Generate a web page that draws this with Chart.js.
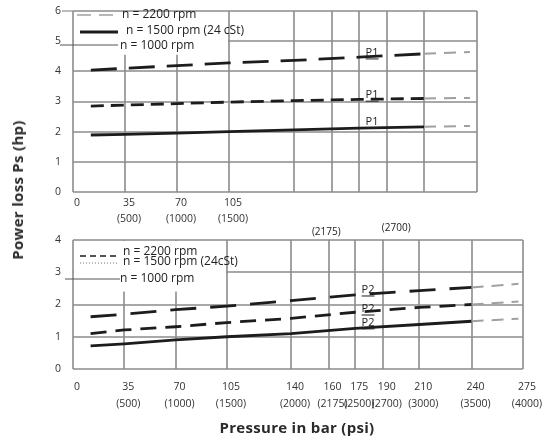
<!DOCTYPE html>
<html>
<head>
<meta charset="utf-8">
<script src="https://cdn.jsdelivr.net/npm/chart.js@4.4.1/dist/chart.umd.min.js"></script>
<style>
  html, body { margin: 0; padding: 0; background: #fff; }
  #wrap { position: relative; width: 548px; height: 439px; overflow: hidden; }
  #box-top { position: absolute; left: 0; top: 0; width: 548px; height: 240px; }
  #box-bottom { position: absolute; left: 0; top: 226px; width: 548px; height: 213px; }
  .axis-title { position: absolute; font: bold 15px "Open Sans", "DejaVu Sans", sans-serif; letter-spacing: 0.3px; color: #2a2a2a; white-space: nowrap; }
  #title-x { left: 297px; top: 427px; transform: translate(-50%, -50%); }
  #title-y { left: 17px; top: 190px; transform: translate(-50%, -50%) rotate(-90deg); }
</style>
</head>
<body>
<div id="wrap">
  <div id="box-top"><canvas id="chart-top" width="548" height="240"></canvas></div>
  <div id="box-bottom"><canvas id="chart-bottom" width="548" height="213"></canvas></div>
  <div class="axis-title" id="title-y">Power loss Ps (hp)</div>
  <div class="axis-title" id="title-x">Pressure in bar (psi)</div>
</div>
<script>
// pressure ticks (bar) and their psi labels
const pressureTicks = [0, 35, 70, 105, 140, 160, 175, 190, 210, 240, 275];
const psiTicks = ['', '(500)', '(1000)', '(1500)', '(2000)', '(2175)', '(2500)', '(2700)', '(3000)', '(3500)', '(4000)'];
const topLabelledUpTo = 105;

// upper diagram (P1)
const topPressure = [12, 35, 70, 105, 140, 175, 210, 236];
const top2200 = [4.04, 4.10, 4.19, 4.28, 4.36, 4.47, 4.58, 4.64];
const top1500 = [2.85, 2.88, 2.93, 2.98, 3.03, 3.07, 3.10, 3.12];
const top1000 = [1.89, 1.91, 1.95, 2.00, 2.06, 2.12, 2.16, 2.19];
const topSolidEnd = 210;

// lower diagram (P2)
const botPressure = [12, 35, 70, 105, 140, 175, 210, 240, 272];
const bot2200 = [1.62, 1.70, 1.84, 1.95, 2.12, 2.30, 2.43, 2.53, 2.64];
const bot1500 = [1.10, 1.21, 1.31, 1.44, 1.57, 1.76, 1.91, 2.00, 2.09];
const bot1000 = [0.72, 0.78, 0.90, 1.00, 1.10, 1.26, 1.38, 1.48, 1.56];
const botSolidEnd = 240;

const legendTop = ['n = 2200 rpm', 'n = 1500 rpm (24 cSt)', 'n = 1000 rpm'];
const legendBot = ['n = 2200 rpm', 'n = 1500 rpm (24cSt)', 'n = 1000 rpm'];
const strayLabels = ['(2175)', '(2700)'];

// the pressure axis of the original is not linear: relative spacing of the ticks
const tickSpacing = [0, 52, 104, 156, 221, 259, 286, 314, 351, 404, 456];

const FONT = '"Open Sans", "DejaVu Sans", sans-serif';
const INK = '#1c1c1c';
const GRID = '#8c8c8c';
const FADED = '#a0a0a0';

function interp(v, xs, ys) {
    let i = 0;
    while (i < xs.length - 2 && v > xs[i + 1]) i++;
    return ys[i] + (v - xs[i]) / (xs[i + 1] - xs[i]) * (ys[i + 1] - ys[i]);
}

class PressureScale extends Chart.LinearScale {
    getPixelForValue(value) {
        if (value === null || value === undefined) return NaN;
        const full = interp(this.max, pressureTicks, tickSpacing);
        return this.getPixelForDecimal(interp(value, pressureTicks, tickSpacing) / full);
    }
    getValueForPixel(pixel) {
        const full = interp(this.max, pressureTicks, tickSpacing);
        return interp(this.getDecimalForPixel(pixel) * full, tickSpacing, pressureTicks);
    }
}
PressureScale.id = 'pressure';
PressureScale.defaults = Chart.LinearScale.defaults;
Chart.register(PressureScale);

const pts = (xs, ys) => xs.map((x, i) => ({ x: x, y: ys[i] }));

function curve(label, xs, ys, dash, solidEnd) {
    return {
        label: label,
        data: pts(xs, ys),
        borderColor: INK,
        borderWidth: 2.8,
        borderDash: dash,
        pointRadius: 0,
        tension: 0,
        segment: {
            borderColor: c => c.p0.parsed.x >= solidEnd ? FADED : undefined,
            borderDash: c => c.p0.parsed.x >= solidEnd ? [12, 8] : dash,
            borderWidth: c => c.p0.parsed.x >= solidEnd ? 2 : undefined
        }
    };
}

function scales(yMax, xMax, labelFn, padX, lineH, xHeight) {
    return {
        x: {
            type: 'pressure', min: 0, max: xMax,
            afterFit: s => { s.height = xHeight; },
            afterBuildTicks: s => { s.ticks = pressureTicks.filter(v => v <= xMax).map(v => ({ value: v })); },
            grid: { display: false, drawTicks: false },
            border: { display: false },
            ticks: {
                autoSkip: false, maxRotation: 0, padding: padX, labelOffset: 4,
                color: '#333', font: { family: FONT, size: 10.5, lineHeight: lineH },
                callback: labelFn
            }
        },
        y: {
            min: 0, max: yMax,
            afterFit: s => { s.width = 18; },
            grid: { display: false, drawTicks: false },
            border: { display: false },
            ticks: { stepSize: 1, padding: 3, crossAlign: 'far', color: '#333', font: { family: FONT, size: 10.5 } }
        }
    };
}

function hLine(ctx, x1, x2, y, color, width, dash) {
    ctx.save();
    ctx.strokeStyle = color;
    ctx.lineWidth = width;
    ctx.setLineDash(dash);
    ctx.beginPath();
    ctx.moveTo(x1, y);
    ctx.lineTo(x2, y);
    ctx.stroke();
    ctx.restore();
}

function putText(ctx, text, x, y, size, align, underline) {
    ctx.save();
    ctx.font = size + 'px ' + FONT;
    ctx.fillStyle = '#222';
    ctx.textAlign = align;
    ctx.textBaseline = 'middle';
    ctx.fillText(text, x, y);
    if (underline) {
        const w = ctx.measureText(text).width;
        ctx.fillRect(align === 'center' ? x - w / 2 : x, y + size * 0.5, w, 1);
    }
    ctx.restore();
}

// grid of the diagram, at the ticks of both scales
function drawGrid(chart) {
    const ctx = chart.ctx, a = chart.chartArea;
    const xs = chart.scales.x, ys = chart.scales.y;
    ctx.save();
    ctx.strokeStyle = GRID;
    ctx.lineWidth = 1.6;
    ctx.beginPath();
    ys.ticks.forEach(t => {
        const y = Math.round(ys.getPixelForValue(t.value));
        ctx.moveTo(a.left, y);
        ctx.lineTo(a.right, y);
    });
    xs.ticks.forEach(t => {
        const x = Math.round(xs.getPixelForValue(t.value));
        ctx.moveTo(x, a.top);
        ctx.lineTo(x, a.bottom);
    });
    ctx.stroke();
    ctx.restore();
}

// white legend box in the upper-left part of the plot, covering the grid
function legendBox(chart, boxBottomValue) {
    const ctx = chart.ctx, a = chart.chartArea;
    const right = chart.scales.x.getPixelForValue(105);
    const bottom = chart.scales.y.getPixelForValue(boxBottomValue);
    ctx.save();
    ctx.fillStyle = '#fff';
    ctx.fillRect(a.left + 1, a.top + 1, right - a.left - 2, bottom - a.top - 1);
    ctx.restore();
}

const topDeco = {
    id: 'topDeco',
    beforeDatasetsDraw(chart) {
        const ctx = chart.ctx, a = chart.chartArea;
        drawGrid(chart);
        legendBox(chart, 4.55);
        hLine(ctx, a.left - 11, a.left, a.top, GRID, 1.2, []);
        hLine(ctx, a.left + 4, a.left + 40, a.top + 4, FADED, 1.5, [14, 8]);
        putText(ctx, legendTop[0], a.left + 49, a.top + 4, 12, 'left');
        hLine(ctx, a.left + 7, a.left + 45, a.top + 21, INK, 3, []);
        putText(ctx, legendTop[1], a.left + 53, a.top + 20, 12, 'left');
        hLine(ctx, a.left - 13, a.left + 45, a.top + 34, '#555', 1, []);
        putText(ctx, legendTop[2], a.left + 47, a.top + 35, 12, 'left');
    },
    afterDatasetsDraw(chart) {
        const ctx = chart.ctx, xs = chart.scales.x, ys = chart.scales.y, a = chart.chartArea;
        [4.61, 3.21, 2.32].forEach(v => {
            putText(ctx, 'P1', xs.getPixelForValue(182), ys.getPixelForValue(v), 11, 'center', true);
        });
        // stray psi labels of the scan, between the two diagrams
        putText(ctx, strayLabels[0], xs.getPixelForValue(157), a.bottom + 40, 10, 'center');
        putText(ctx, strayLabels[1], xs.getPixelForValue(195), a.bottom + 36, 10, 'center');
    }
};

const botDeco = {
    id: 'botDeco',
    beforeDatasetsDraw(chart) {
        const ctx = chart.ctx, a = chart.chartArea;
        drawGrid(chart);
        legendBox(chart, 2.4);
        hLine(ctx, a.left + 7, a.left + 45, a.top + 16, INK, 1.6, [6, 4]);
        putText(ctx, legendBot[0], a.left + 50, a.top + 12, 12, 'left');
        hLine(ctx, a.left + 7, a.left + 45, a.top + 23, '#777', 1, [1, 2]);
        putText(ctx, legendBot[1], a.left + 50, a.top + 22, 12, 'left');
        hLine(ctx, a.left - 8, a.left + 47, a.top + 39, '#555', 1, []);
        putText(ctx, legendBot[2], a.left + 47, a.top + 39, 12, 'left');
    },
    afterDatasetsDraw(chart) {
        const ctx = chart.ctx, xs = chart.scales.x, ys = chart.scales.y;
        [2.45, 1.86, 1.43].forEach(v => {
            putText(ctx, 'P2', xs.getPixelForValue(182), ys.getPixelForValue(v), 11, 'center', true);
        });
    }
};

const topLabels = value => {
    if (value > topLabelledUpTo) return '';
    return value === 0 ? '0' : [String(value), psiTicks[pressureTicks.indexOf(value)]];
};
const botLabels = value => {
    return value === 0 ? '0' : [String(value), psiTicks[pressureTicks.indexOf(value)]];
};

new Chart(document.getElementById('chart-top'), {
    type: 'line',
    data: {
        datasets: [
            curve(legendTop[0], topPressure, top2200, [26, 12], topSolidEnd),
            curve(legendTop[1], topPressure, top1500, [13, 7], topSolidEnd),
            curve(legendTop[2], topPressure, top1000, [], topSolidEnd)
        ]
    },
    options: {
        responsive: false, animation: false,
        layout: { padding: { left: 55, top: 11, right: 71, bottom: 16 } },
        scales: scales(6, 240, topLabels, 3, 1.52, 32),
        plugins: { legend: { display: false }, tooltip: { enabled: false } }
    },
    plugins: [topDeco]
});

new Chart(document.getElementById('chart-bottom'), {
    type: 'line',
    data: {
        datasets: [
            curve(legendBot[0], botPressure, bot2200, [26, 14], botSolidEnd),
            curve(legendBot[1], botPressure, bot1500, [16, 9], botSolidEnd),
            curve(legendBot[2], botPressure, bot1000, [], botSolidEnd)
        ]
    },
    options: {
        responsive: false, animation: false,
        layout: { padding: { left: 55, top: 14, right: 19, bottom: 30 } },
        scales: scales(4, 275, botLabels, 10, 1.62, 40),
        plugins: { legend: { display: false }, tooltip: { enabled: false } }
    },
    plugins: [botDeco]
});
</script>
</body>
</html>
